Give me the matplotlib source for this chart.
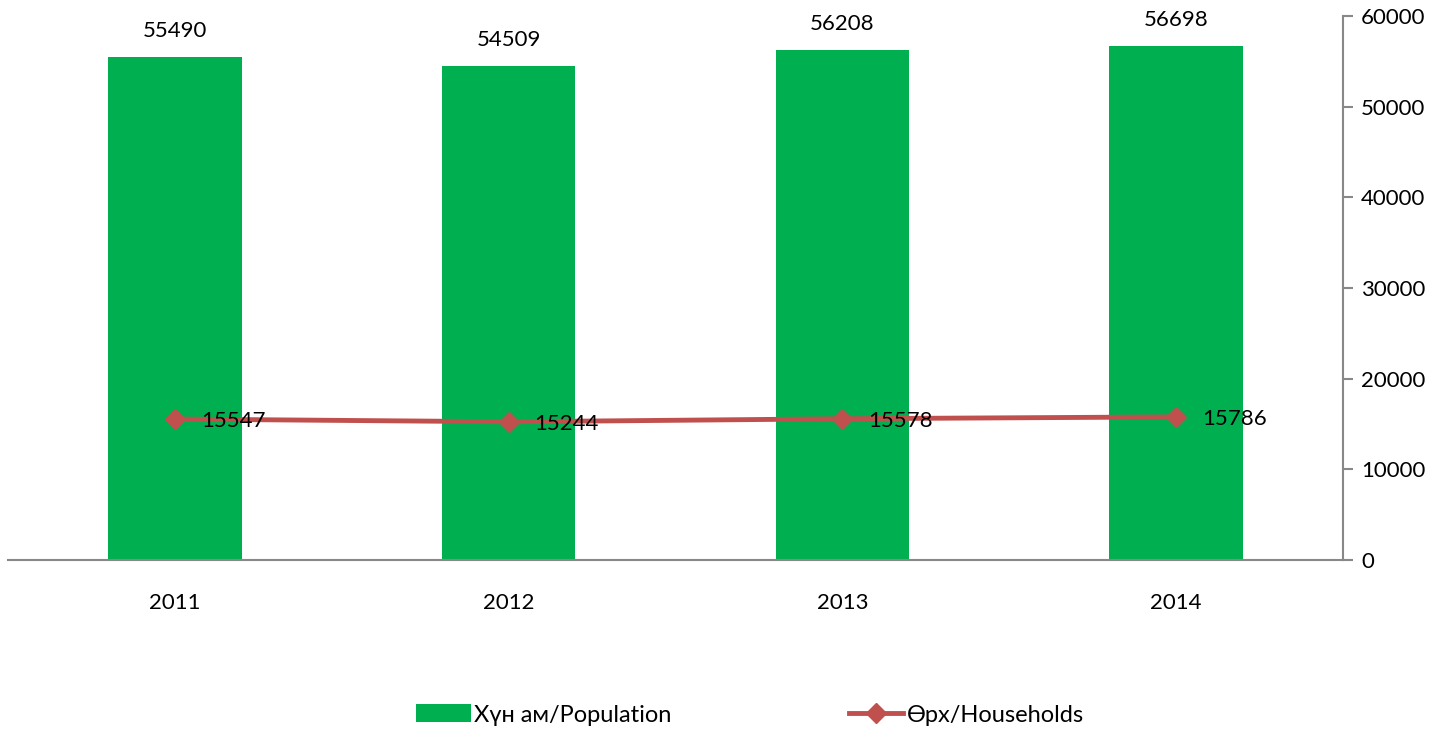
import matplotlib
matplotlib.use("Agg")
import matplotlib.pyplot as plt
import numpy as np

years = ['2011', '2012', '2013', '2014']
population = [55490, 54509, 56208, 56698]
households = [15547, 15244, 15578, 15786]

plt.rcParams['font.family'] = ['Lato', 'DejaVu Sans']

fig = plt.figure(figsize=(14.55, 7.35), dpi=100)
ax = fig.add_axes([8 / 1455, 1 - 560 / 735, 1335 / 1455, 544 / 735])

x = np.arange(len(years))
bars = ax.bar(x, population, width=0.4, color='#00B050', label='Хүн ам/Population')
line, = ax.plot(x, households, color='#C0504D', lw=3.5, marker='D', ms=10,
                label='Өрх/Households')

for xi, v in zip(x, population):
    ax.annotate(str(v), (xi, v), xytext=(0, 16), textcoords='offset pixels',
                ha='center', va='bottom', fontsize=16)
for xi, v in zip(x, households):
    ax.annotate(str(v), (xi, v), xytext=(26, -2), textcoords='offset pixels',
                ha='left', va='center', fontsize=16)

ax.set_xlim(-0.5, 3.5)
ax.set_ylim(0, 60000)
ax.set_yticks(range(0, 60001, 10000))
ax.set_xticks(x)
ax.set_xticklabels(years)
ax.yaxis.tick_right()
for s in ['top', 'left']:
    ax.spines[s].set_visible(False)
for s in ['right', 'bottom']:
    ax.spines[s].set_color('#888888')
    ax.spines[s].set_linewidth(1.5)
ax.tick_params(axis='y', colors='#888888', labelcolor='black', length=7,
               width=1.5, labelsize=16, pad=6)
ax.tick_params(axis='x', length=0, labelsize=16, pad=24)

fig.legend(handles=[bars, line], loc='center', bbox_to_anchor=(750 / 1455, 1 - 715 / 735),
           ncol=2, frameon=False, fontsize=17, columnspacing=7.5, handlelength=2.3,
           handleheight=0.8, handletextpad=0.15)

fig.savefig('out.png', dpi=100)
